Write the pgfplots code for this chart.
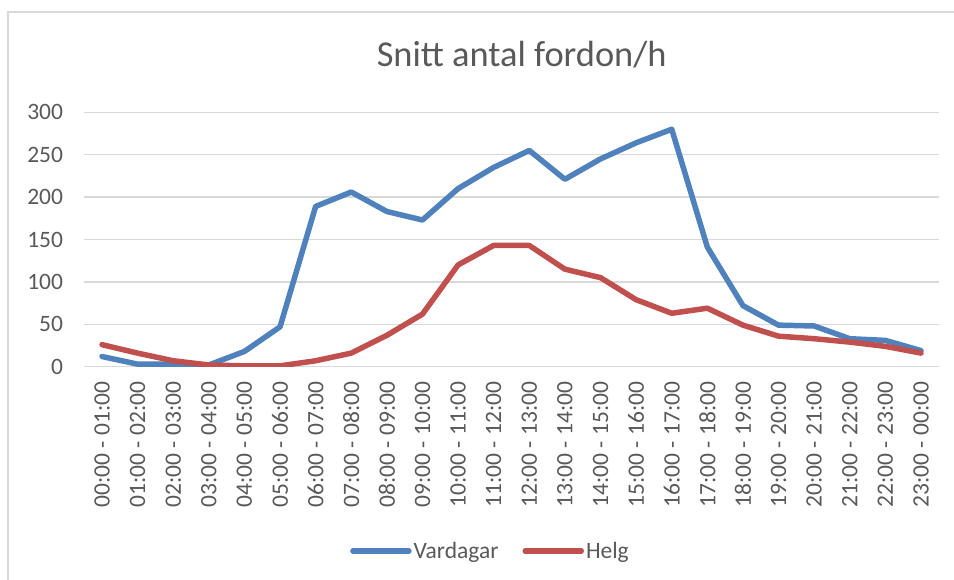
\documentclass[border=0pt]{standalone}
\usepackage{pgfplots}
\pgfplotsset{compat=1.18}
\usepackage{fontspec}
\setmainfont{Carlito}
\definecolor{blu}{HTML}{4F81BD}
\definecolor{rd}{HTML}{C0504D}
\definecolor{txt}{HTML}{595959}
\definecolor{grd}{HTML}{D9D9D9}
\begin{document}
\begin{tikzpicture}[x=1pt,y=1pt]
\useasboundingbox (0,0) rectangle (954,580);
\draw[grd, line width=2pt] (8,0) -- (8,568) -- (954,568);
\node[txt, font=\fontsize{36.4}{40}\selectfont, anchor=base, inner sep=0pt] at (521.7,513.3) {Snitt antal fordon/h};
\begin{axis}[
 scale only axis, width=854.6pt, height=254.4pt,
 at={(84.2pt,213.3pt)}, anchor=south west,
 xmin=-0.5, xmax=23.5, ymin=0, ymax=300,
 xtick={0,...,23},
 xticklabels={00:00 - 01:00,01:00 - 02:00,02:00 - 03:00,03:00 - 04:00,04:00 - 05:00,05:00 - 06:00,06:00 - 07:00,07:00 - 08:00,08:00 - 09:00,09:00 - 10:00,10:00 - 11:00,11:00 - 12:00,12:00 - 13:00,13:00 - 14:00,14:00 - 15:00,15:00 - 16:00,16:00 - 17:00,17:00 - 18:00,18:00 - 19:00,19:00 - 20:00,20:00 - 21:00,21:00 - 22:00,22:00 - 23:00,23:00 - 00:00},
 ytick={0,50,...,300},
 axis line style={draw=none},
 major tick length=0pt,
 ymajorgrids, grid style={grd, line width=1.5pt},
 tick label style={text=txt, font=\fontsize{23.5}{26}\selectfont, inner sep=0pt},
 /pgf/number format/assume math mode=true,
 xticklabel style={rotate=90, anchor=east},
 xticklabel shift=15pt, yticklabel shift=21pt,
 legend columns=2,
 legend cell align=left,
 legend style={at={(0.4754,-0.7245)}, anchor=center, draw=none, fill=none, text=txt,
   font=\fontsize{23.5}{26}\selectfont,
   nodes={inner sep=2pt},
   /tikz/every even column/.append style={column sep=22pt}},
 legend image code/.code={\draw[#1, line cap=round] (0pt,0pt) -- (56pt,0pt);},
]
\addplot[blu, line width=5.5pt, line join=round, line cap=round] coordinates {
(0,12) (1,3) (2,3) (3,2) (4,18) (5,47) (6,189) (7,206) (8,183) (9,173) (10,210) (11,235)
(12,255) (13,221) (14,245) (15,264) (16,280) (17,141) (18,72) (19,49) (20,48) (21,33) (22,31) (23,19)};
\addlegendentry{Vardagar}
\addplot[rd, line width=5.5pt, line join=round, line cap=round] coordinates {
(0,26) (1,16) (2,7) (3,2) (4,1) (5,1) (6,7) (7,16) (8,37) (9,62) (10,120) (11,143)
(12,143) (13,115) (14,105) (15,79) (16,63) (17,69) (18,49) (19,36) (20,33) (21,29) (22,24) (23,16)};
\addlegendentry{Helg}
\end{axis}
\end{tikzpicture}
\end{document}
